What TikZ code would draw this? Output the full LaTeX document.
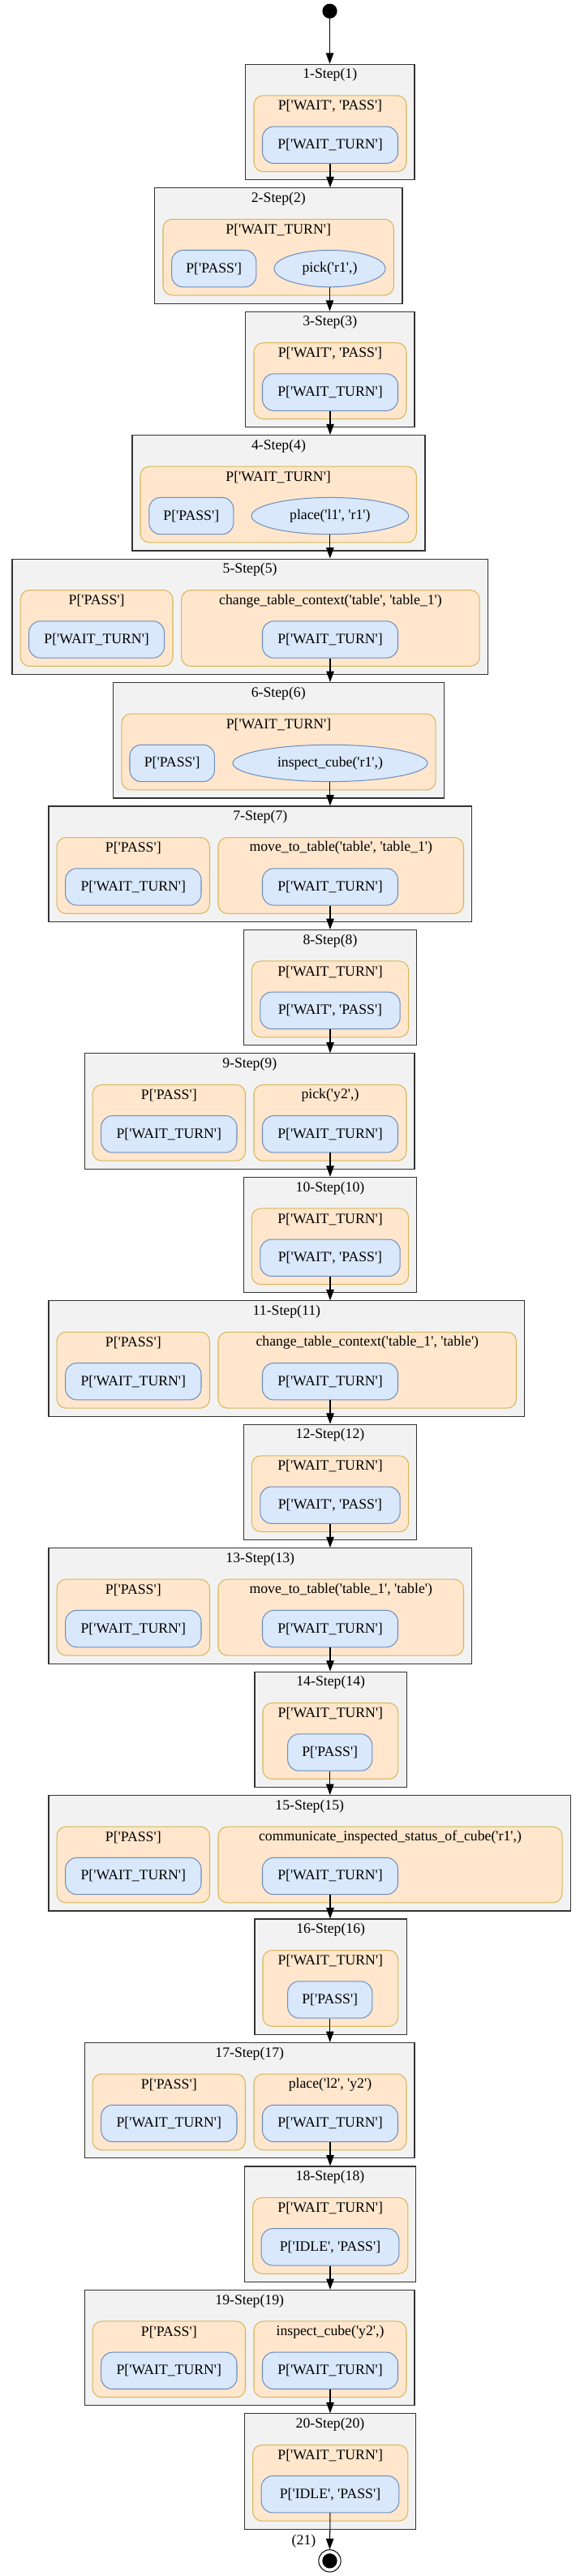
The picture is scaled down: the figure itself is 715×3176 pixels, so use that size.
\documentclass[tikz,border=0pt]{standalone}
\usepackage{fontspec}
\newfontfamily\gvfont{Liberation Serif}
\usetikzlibrary{arrows.meta, shapes.geometric}

\definecolor{stepfill}{HTML}{F2F2F2}
\definecolor{grpfill}{HTML}{FFE6CC}
\definecolor{grpline}{HTML}{D6B656}
\definecolor{stfill}{HTML}{DAE8FC}
\definecolor{stline}{HTML}{6C8EBF}

\tikzset{
  stepbox/.style={rectangle, draw=black!80, fill=stepfill, line width=0.9pt,
    inner sep=0pt, anchor=north, minimum height=112.5pt},
  grpbox/.style={rectangle, rounded corners=9pt, draw=grpline, fill=grpfill,
    line width=0.8pt, inner sep=0pt, anchor=north, minimum height=74.1pt},
  stbox/.style={rectangle, rounded corners=11pt, draw=stline, fill=stfill,
    line width=0.8pt, inner sep=2pt, minimum height=35.8pt},
  acell/.style={ellipse, draw=stline, fill=stfill, line width=0.8pt,
    inner sep=0pt, minimum height=35.8pt},
  ttl/.style={inner sep=0pt},
  flow/.style={-{Triangle[length=10.5pt, width=7.5pt]}, line width=0.8pt},
  every node/.style={font=\gvfont\fontsize{14pt}{16pt}\selectfont}
}

\begin{document}
\begin{tikzpicture}[x=0.79pt, y=-0.79pt]

  % step frame: number, left, right (top from the step number)
  \def\stepfrm#1#2#3{%
    \pgfmathsetmacro\yt{78.7+152.45*(#1-1)}
    \node[stepbox, minimum width={(#3-#2)*0.79pt}] (s#1) at ({(#2+#3)/2},\yt) {};
    \node[ttl] (s#1t) at ({(#2+#3)/2},\yt+14) {#1-Step(#1)};
  }
  % group frame: name, left, right, label
  \def\grpfrm#1#2#3#4{%
    \node[grpbox, minimum width={(#3-#2)*0.79pt}] (#1) at ({(#2+#3)/2},\yt+38.6) {};
    \node[ttl] (#1t) at ({(#2+#3)/2},\yt+52.3) {#4};
  }
  % state box and action ellipse: name, left, right, label
  \def\stnode#1#2#3#4{%
    \node[stbox, minimum width={(#3-#2)*0.79pt}] (#1) at ({(#2+#3)/2},\yt+100) {#4};
  }
  \def\acnode#1#2#3#4{%
    \node[acell, minimum width={(#3-#2)*0.79pt}] (#1) at ({(#2+#3)/2},\yt+100) {#4};
  }

  \useasboundingbox (0,0) rectangle (715,3176);

  % Start point
  \node[circle, fill=black, inner sep=0pt, minimum size=14.4pt] (start) at (406.5,13.7) {};

  % Step 1
  \stepfrm{1}{302.5}{511}
  \grpfrm{g1}{313}{501}{P['WAIT', 'PASS']}
  \stnode{m1}{323.5}{490.5}{P['WAIT\_TURN']}

  % Step 2
  \stepfrm{2}{190.7}{496}
  \grpfrm{g2}{201}{485.4}{P['WAIT\_TURN']}
  \stnode{p2}{211.7}{315.8}{P['PASS']}
  \acnode{m2}{338}{475}{pick('r1',)}

  % Step 3
  \stepfrm{3}{302.5}{511}
  \grpfrm{g3}{313}{501}{P['WAIT', 'PASS']}
  \stnode{m3}{323.5}{490.5}{P['WAIT\_TURN']}

  % Step 4
  \stepfrm{4}{163}{524}
  \grpfrm{g4}{173}{513.3}{P['WAIT\_TURN']}
  \stnode{p4}{183.8}{287.8}{P['PASS']}
  \acnode{m4}{310}{503.7}{place('l1', 'r1')}

  % Step 5
  \stepfrm{5}{15}{601.3}
  \grpfrm{g5a}{25.2}{213}{P['PASS']}
  \stnode{l5}{35.7}{202.6}{P['WAIT\_TURN']}
  \grpfrm{g5b}{223.7}{591.2}{change\_table\_context('table', 'table\_1')}
  \stnode{m5}{323.5}{490.5}{P['WAIT\_TURN']}

  % Step 6
  \stepfrm{6}{139.3}{547.2}
  \grpfrm{g6}{149.9}{537.1}{P['WAIT\_TURN']}
  \stnode{p6}{160}{264.4}{P['PASS']}
  \acnode{m6}{286.9}{527}{inspect\_cube('r1',)}

  % Step 7
  \stepfrm{7}{60}{581.6}
  \grpfrm{g7a}{70.1}{258.5}{P['PASS']}
  \stnode{l7}{80.7}{248}{P['WAIT\_TURN']}
  \grpfrm{g7b}{269}{571.5}{move\_to\_table('table', 'table\_1')}
  \stnode{m7}{323.5}{490.5}{P['WAIT\_TURN']}

  % Step 8
  \stepfrm{8}{300.2}{513.8}
  \grpfrm{g8}{310.3}{503.7}{P['WAIT\_TURN']}
  \stnode{m8}{320.8}{493.2}{P['WAIT', 'PASS']}

  % Step 9
  \stepfrm{9}{104.5}{511}
  \grpfrm{g9a}{114.1}{302.5}{P['PASS']}
  \stnode{l9}{124.7}{292}{P['WAIT\_TURN']}
  \grpfrm{g9b}{313}{501}{pick('y2',)}
  \stnode{m9}{323.5}{490.5}{P['WAIT\_TURN']}

  % Step 10
  \stepfrm{10}{300.2}{513.8}
  \grpfrm{g10}{310.3}{503.7}{P['WAIT\_TURN']}
  \stnode{m10}{320.8}{493.2}{P['WAIT', 'PASS']}

  % Step 11
  \stepfrm{11}{60}{646.7}
  \grpfrm{g11a}{70.1}{258.5}{P['PASS']}
  \stnode{l11}{80.7}{248}{P['WAIT\_TURN']}
  \grpfrm{g11b}{269}{636.6}{change\_table\_context('table\_1', 'table')}
  \stnode{m11}{323.5}{490.5}{P['WAIT\_TURN']}

  % Step 12
  \stepfrm{12}{300.2}{513.8}
  \grpfrm{g12}{310.3}{503.7}{P['WAIT\_TURN']}
  \stnode{m12}{320.8}{493.2}{P['WAIT', 'PASS']}

  % Step 13
  \stepfrm{13}{60}{581.6}
  \grpfrm{g13a}{70.1}{258.5}{P['PASS']}
  \stnode{l13}{80.7}{248}{P['WAIT\_TURN']}
  \grpfrm{g13b}{269}{571.5}{move\_to\_table('table\_1', 'table')}
  \stnode{m13}{323.5}{490.5}{P['WAIT\_TURN']}

  % Step 14
  \stepfrm{14}{314}{501.4}
  \grpfrm{g14}{324}{490.8}{P['WAIT\_TURN']}
  \stnode{m14}{354.7}{458.8}{P['PASS']}

  % Step 15
  \stepfrm{15}{60}{703.5}
  \grpfrm{g15a}{70.1}{258.5}{P['PASS']}
  \stnode{l15}{80.7}{248}{P['WAIT\_TURN']}
  \grpfrm{g15b}{269}{693}{communicate\_inspected\_status\_of\_cube('r1',)}
  \stnode{m15}{323.5}{490.5}{P['WAIT\_TURN']}

  % Step 16
  \stepfrm{16}{314}{501.4}
  \grpfrm{g16}{324}{490.8}{P['WAIT\_TURN']}
  \stnode{m16}{354.7}{458.8}{P['PASS']}

  % Step 17
  \stepfrm{17}{104.5}{511}
  \grpfrm{g17a}{114.1}{302.5}{P['PASS']}
  \stnode{l17}{124.7}{292}{P['WAIT\_TURN']}
  \grpfrm{g17b}{313}{501}{place('l2', 'y2')}
  \stnode{m17}{323.5}{490.5}{P['WAIT\_TURN']}

  % Step 18
  \stepfrm{18}{301.6}{512.4}
  \grpfrm{g18}{311.6}{502.8}{P['WAIT\_TURN']}
  \stnode{m18}{322.2}{491.8}{P['IDLE', 'PASS']}

  % Step 19
  \stepfrm{19}{104.5}{511}
  \grpfrm{g19a}{114.1}{302.5}{P['PASS']}
  \stnode{l19}{124.7}{292}{P['WAIT\_TURN']}
  \grpfrm{g19b}{313}{501}{inspect\_cube('y2',)}
  \stnode{m19}{323.5}{490.5}{P['WAIT\_TURN']}

  % Step 20
  \stepfrm{20}{301.6}{512.4}
  \grpfrm{g20}{311.6}{502.8}{P['WAIT\_TURN']}
  \stnode{m20}{322.2}{491.8}{P['IDLE', 'PASS']}

  % End point
  \node[circle, draw=black, fill=white, line width=0.8pt, inner sep=0pt, minimum size=21.6pt] (end) at (406.5,3157.3) {};
  \node[circle, fill=black, inner sep=0pt, minimum size=14.5pt] (endin) at (end.center) {};
  \node[ttl] (lbl21) at (374.5,3133.3) {(21)};

  % Transitions
  \draw[flow] (start.south) -- (start.south |- s1.north);
  \foreach \i in {1,...,19}{
    \pgfmathtruncatemacro\j{\i+1}
    \draw[flow] (m\i.south) -- (m\i.south |- s\j.north);
  }
  \draw[flow] (m20.south) -- (end.north);

\end{tikzpicture}
\end{document}
